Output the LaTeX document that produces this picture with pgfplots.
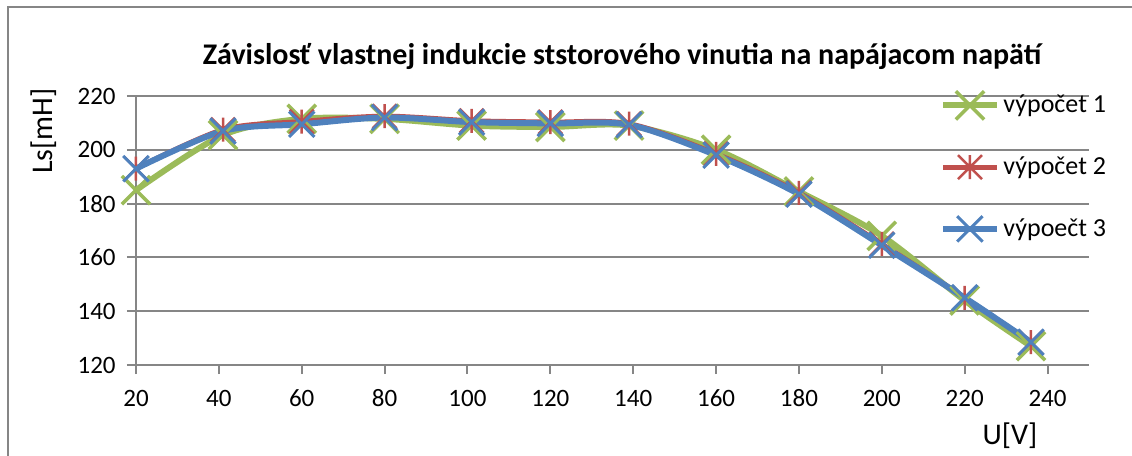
\documentclass[border=0pt]{standalone}
\usepackage{pgfplots}
\pgfplotsset{compat=1.18}
\usepackage{fontspec}
\setmainfont{Carlito}
\definecolor{exgreen}{HTML}{9BBB59}
\definecolor{exred}{HTML}{C0504D}
\definecolor{exblue}{HTML}{4F81BD}
\definecolor{exgrid}{HTML}{868686}
\pgfdeclareplotmark{xstar}{%
  \pgfpathmoveto{\pgfqpoint{-\pgfplotmarksize}{-\pgfplotmarksize}}%
  \pgfpathlineto{\pgfqpoint{\pgfplotmarksize}{\pgfplotmarksize}}%
  \pgfpathmoveto{\pgfqpoint{-\pgfplotmarksize}{\pgfplotmarksize}}%
  \pgfpathlineto{\pgfqpoint{\pgfplotmarksize}{-\pgfplotmarksize}}%
  \pgfpathmoveto{\pgfqpoint{0pt}{-\pgfplotmarksize}}%
  \pgfpathlineto{\pgfqpoint{0pt}{\pgfplotmarksize}}%
  \pgfusepathqstroke}
\begin{document}
\begin{tikzpicture}
\useasboundingbox (-68pt,-45.5pt) rectangle (498pt,182.5pt);
\draw[exgrid, line width=1pt] (-64pt,-80pt) rectangle (520pt,179pt);
\begin{axis}[
  at={(0pt,0pt)}, anchor=south west,
  scale only axis, width=476.5pt, height=134.5pt,
  xmin=20, xmax=250, ymin=120, ymax=220,
  xtick={20,40,...,240}, ytick={120,140,...,220},
  axis x line=bottom, axis y line=left,
  axis line style={exgrid, line width=1pt, -},
  tick style={exgrid, line width=1pt},
  major tick length=4.5pt, tick align=outside,
  ymajorgrids, grid style={exgrid, line width=1pt},
  /pgf/number format/assume math mode=true,
  ticklabel style={font=\fontsize{12.5}{12.5}\selectfont},
  xticklabel style={anchor=base, yshift=-16pt},
  yticklabel style={anchor=east, inner sep=0pt, xshift=-5.5pt},
  title={Závislosť vlastnej indukcie ststorového vinutia na napájacom napätí},
  title style={font=\bfseries\fontsize{15}{15}\selectfont, at={(0.51,1.074)}, anchor=base},
  xlabel={U[V]},
  xlabel style={at={(0.917,-0.297)}, anchor=base, font=\fontsize{15}{15}\selectfont},
  ylabel={Ls[mH]},
  ylabel style={at={(-0.097,0.870)}, anchor=center, font=\fontsize{15}{15}\selectfont},
  legend style={at={(0.8437,1.02)}, anchor=north west, draw=none, fill=none,
    inner sep=0pt, font=\fontsize{13}{13}\selectfont, row sep=16.5pt,
    /tikz/every even column/.append style={column sep=2pt}},
  legend cell align=left,
  legend image code/.code={\draw[mark repeat=2,mark phase=2] plot coordinates {(0pt,0pt) (13.25pt,0pt) (26.5pt,0pt)};},
]
\addplot[exgreen, line width=3pt, smooth, mark=x, mark size=10pt,
  mark options={line width=1.75pt, solid}] coordinates {
  (20,185) (41,205.5) (60,211.5) (80,211.5) (101,209) (120,208.5) (139,209)
  (160,200) (180,184.5) (200,168) (220,144) (236,127)};
\addlegendentry{výpočet 1}
\addplot[exred, line width=2.5pt, smooth, mark=xstar, mark size=6pt,
  mark options={line width=1.25pt, solid}] coordinates {
  (20,193) (41,207.5) (60,210.5) (80,212.5) (101,210.8) (120,210.3) (139,209.7)
  (160,198.5) (180,184) (200,165) (220,145) (236,128.5)};
\addlegendentry{výpočet 2}
\addplot[exblue, line width=3pt, smooth, mark=x, mark size=9pt,
  mark options={line width=1.5pt, solid}] coordinates {
  (20,193) (41,207) (60,209.5) (80,212) (101,210.3) (120,209.8) (139,209.3)
  (160,198) (180,183.5) (200,164.5) (220,145) (236,128.5)};
\addlegendentry{výpoečt 3}
\end{axis}
\end{tikzpicture}
\end{document}
